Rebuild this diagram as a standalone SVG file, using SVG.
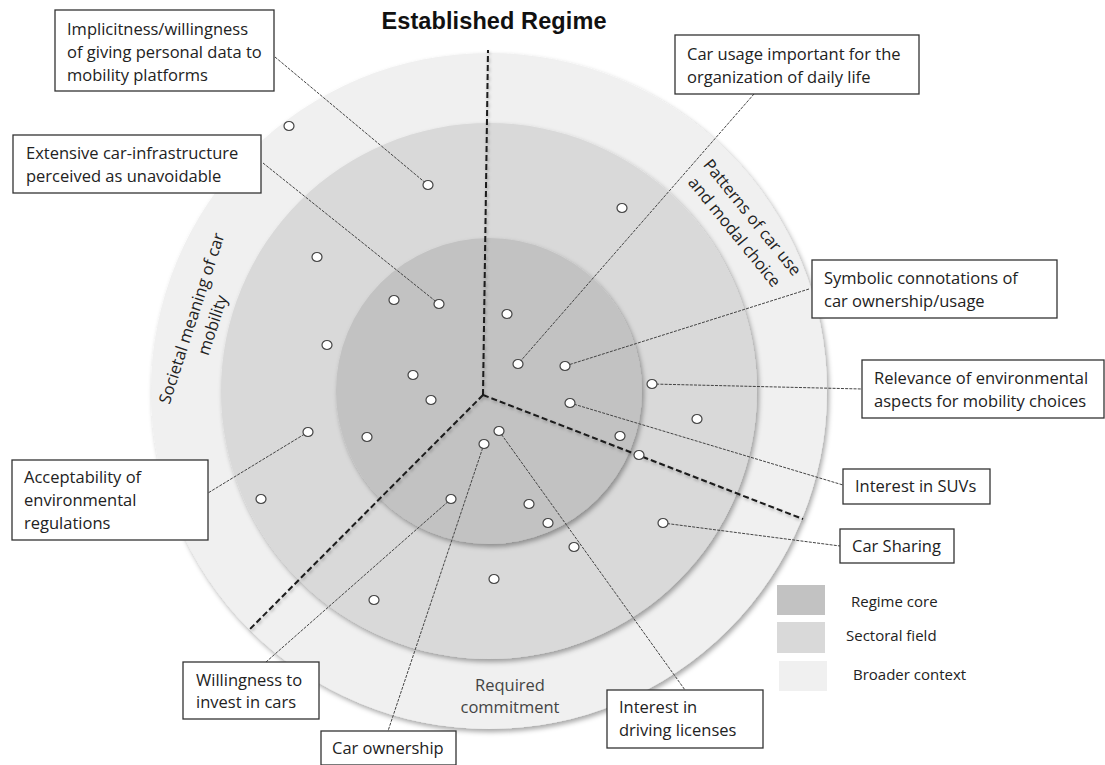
<svg xmlns="http://www.w3.org/2000/svg" width="1105" height="765" viewBox="0 0 1105 765">
<defs>
<filter id="sh" x="-10%" y="-10%" width="120%" height="120%">
<feDropShadow dx="2" dy="3" stdDeviation="2.5" flood-color="#000" flood-opacity="0.35"/>
</filter>
<filter id="lsh" x="-10%" y="-10%" width="120%" height="120%">
<feDropShadow dx="1" dy="2" stdDeviation="1.5" flood-color="#000" flood-opacity="0.25"/>
</filter>
<style>
.box{fill:#fff;stroke:#333;stroke-width:1.3}
.t{font-family:"Open Sans","Liberation Sans",sans-serif;font-size:16.5px;fill:#222}
.lg{font-family:"Open Sans","Liberation Sans",sans-serif;font-size:15px;fill:#222}
.div{stroke:#1a1a1a;stroke-width:2;stroke-dasharray:6 3;fill:none}
.con{stroke:#444;stroke-width:1;stroke-dasharray:3 1.2;fill:none}
.dot{fill:#fff;stroke:#444;stroke-width:1.2}
</style>
</defs>
<rect width="1105" height="765" fill="#fff"/>

<g id="rings">
<circle cx="489" cy="391" r="338" fill="#f0f0f0" filter="url(#sh)"/>
<circle cx="489" cy="391" r="268" fill="#d9d9d9" filter="url(#sh)"/>
<circle cx="489" cy="391" r="153" fill="#c2c2c2" filter="url(#sh)"/>
</g>

<g id="dividers" filter="url(#lsh)">
<line class="div" x1="483" y1="395" x2="488" y2="50"/>
<line class="div" x1="483" y1="395" x2="249" y2="630"/>
<line class="div" x1="483" y1="395" x2="803" y2="519"/>
</g>

<text x="494" y="29" text-anchor="middle" font-family="Liberation Sans, Arial, sans-serif" font-weight="bold" font-size="23.5" fill="#111" textLength="225">Established Regime</text>

<g id="sector-labels" class="t">
<g transform="translate(197,320) rotate(-72)">
<text class="t" x="0" y="0" text-anchor="middle">Societal meaning of car</text>
<text class="t" x="0" y="22" text-anchor="middle">mobility</text>
</g>
<g transform="translate(748,221) rotate(51)">
<text class="t" x="0" y="0" text-anchor="middle">Patterns of car use</text>
<text class="t" x="0" y="23" text-anchor="middle">and modal choice</text>
</g>
<text class="t" x="510" y="691" text-anchor="middle" style="fill:#444">Required</text>
<text class="t" x="510" y="713" text-anchor="middle" style="fill:#444">commitment</text>
</g>

<g id="connectors">
<line class="con" x1="275" y1="57" x2="428" y2="185"/>
<line class="con" x1="263" y1="163" x2="439" y2="304"/>
<line class="con" x1="754" y1="94" x2="518" y2="364"/>
<line class="con" x1="809" y1="289" x2="565" y2="366"/>
<line class="con" x1="652" y1="384" x2="862" y2="389"/>
<line class="con" x1="570" y1="403" x2="843" y2="485"/>
<line class="con" x1="663" y1="523" x2="840" y2="546"/>
<line class="con" x1="499" y1="431" x2="685" y2="690"/>
<line class="con" x1="484" y1="444" x2="388" y2="731"/>
<line class="con" x1="451" y1="499" x2="266" y2="662"/>
<line class="con" x1="308" y1="432" x2="208" y2="493"/>
</g>

<g id="dots">
<ellipse class="dot" cx="289" cy="126" rx="5" ry="4.5"/>
<ellipse class="dot" cx="428" cy="185" rx="5" ry="4.5"/>
<ellipse class="dot" cx="622" cy="208" rx="5" ry="4.5"/>
<ellipse class="dot" cx="317" cy="257" rx="5" ry="4.5"/>
<ellipse class="dot" cx="394" cy="300" rx="5" ry="4.5"/>
<ellipse class="dot" cx="439" cy="304" rx="5" ry="4.5"/>
<ellipse class="dot" cx="507" cy="314" rx="5" ry="4.5"/>
<ellipse class="dot" cx="327" cy="345" rx="5" ry="4.5"/>
<ellipse class="dot" cx="518" cy="364" rx="5" ry="4.5"/>
<ellipse class="dot" cx="565" cy="366" rx="5" ry="4.5"/>
<ellipse class="dot" cx="413" cy="375" rx="5" ry="4.5"/>
<ellipse class="dot" cx="652" cy="384" rx="5" ry="4.5"/>
<ellipse class="dot" cx="431" cy="400" rx="5" ry="4.5"/>
<ellipse class="dot" cx="570" cy="403" rx="5" ry="4.5"/>
<ellipse class="dot" cx="697" cy="419" rx="5" ry="4.5"/>
<ellipse class="dot" cx="308" cy="432" rx="5" ry="4.5"/>
<ellipse class="dot" cx="499" cy="431" rx="5" ry="4.5"/>
<ellipse class="dot" cx="620" cy="436" rx="5" ry="4.5"/>
<ellipse class="dot" cx="367" cy="437" rx="5" ry="4.5"/>
<ellipse class="dot" cx="484" cy="444" rx="5" ry="4.5"/>
<ellipse class="dot" cx="639" cy="455" rx="5" ry="4.5"/>
<ellipse class="dot" cx="261" cy="499" rx="5" ry="4.5"/>
<ellipse class="dot" cx="451" cy="499" rx="5" ry="4.5"/>
<ellipse class="dot" cx="529" cy="504" rx="5" ry="4.5"/>
<ellipse class="dot" cx="548" cy="523" rx="5" ry="4.5"/>
<ellipse class="dot" cx="663" cy="523" rx="5" ry="4.5"/>
<ellipse class="dot" cx="574" cy="547" rx="5" ry="4.5"/>
<ellipse class="dot" cx="494" cy="579" rx="5" ry="4.5"/>
<ellipse class="dot" cx="374" cy="600" rx="5" ry="4.5"/>
</g>

<g id="n-implicitness">
<rect class="box" x="55" y="10" width="219" height="81"/>
<text class="t" x="67" y="35">Implicitness/willingness</text>
<text class="t" x="67" y="58">of giving personal data to</text>
<text class="t" x="67" y="81">mobility platforms</text>
</g>
<g id="n-infrastructure">
<rect class="box" x="13" y="135" width="248" height="58"/>
<text class="t" x="26" y="159">Extensive car-infrastructure</text>
<text class="t" x="26" y="182">perceived as unavoidable</text>
</g>
<g id="n-carusage">
<rect class="box" x="675" y="35" width="244" height="59"/>
<text class="t" x="687" y="60">Car usage important for the</text>
<text class="t" x="687" y="83">organization of daily life</text>
</g>
<g id="n-symbolic">
<rect class="box" x="812" y="260" width="245" height="58"/>
<text class="t" x="824" y="284">Symbolic connotations of</text>
<text class="t" x="824" y="307">car ownership/usage</text>
</g>
<g id="n-relevance">
<rect class="box" x="862" y="360" width="242" height="58"/>
<text class="t" x="874" y="384">Relevance of environmental</text>
<text class="t" x="874" y="407">aspects for mobility choices</text>
</g>
<g id="n-suvs">
<rect class="box" x="843" y="469" width="147" height="35"/>
<text class="t" x="855" y="492">Interest in SUVs</text>
</g>
<g id="n-carsharing">
<rect class="box" x="840" y="529" width="114" height="34"/>
<text class="t" x="852" y="552">Car Sharing</text>
</g>
<g id="n-licenses">
<rect class="box" x="607" y="690" width="156" height="58"/>
<text class="t" x="619" y="713">Interest in</text>
<text class="t" x="619" y="736">driving licenses</text>
</g>
<g id="n-ownership">
<rect class="box" x="321" y="731" width="135" height="34"/>
<text class="t" x="332" y="754">Car ownership</text>
</g>
<g id="n-willingness">
<rect class="box" x="183" y="662" width="136" height="57"/>
<text class="t" x="196" y="686">Willingness to</text>
<text class="t" x="196" y="708">invest in cars</text>
</g>
<g id="n-acceptability">
<rect class="box" x="12" y="460" width="196" height="80"/>
<text class="t" x="24" y="483">Acceptability of</text>
<text class="t" x="24" y="506">environmental</text>
<text class="t" x="24" y="529">regulations</text>
</g>

<g id="legend">
<rect x="777" y="585" width="48" height="30" fill="#c2c2c2"/>
<rect x="777" y="622" width="48" height="31" fill="#d9d9d9"/>
<rect x="779" y="661" width="48" height="30" fill="#f0f0f0"/>
<text class="lg" x="851" y="607">Regime core</text>
<text class="lg" x="846" y="641">Sectoral field</text>
<text class="lg" x="853" y="680">Broader context</text>
</g>
</svg>
